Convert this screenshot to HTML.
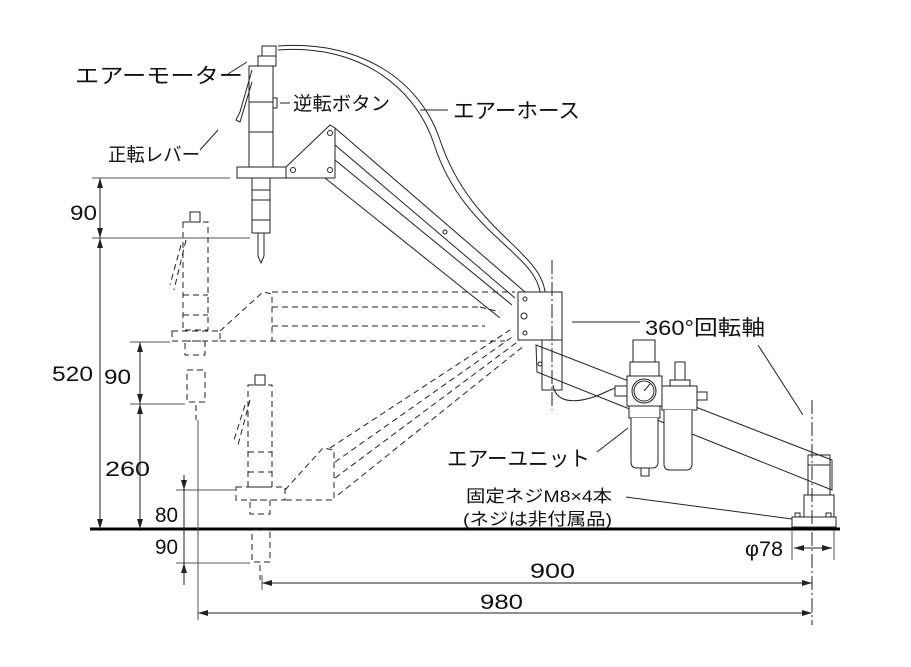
<!DOCTYPE html>
<html><head><meta charset="utf-8"><style>
html,body{margin:0;padding:0;background:#fff}
svg{display:block}
text{font-family:"Liberation Sans","Noto Sans CJK JP",sans-serif;fill:#111}
</style></head><body>
<svg width="911" height="667" viewBox="0 0 911 667" xmlns="http://www.w3.org/2000/svg">
<g stroke="#222" fill="none" stroke-width="1">
<line x1="90" y1="529" x2="840" y2="529" stroke-width="3" stroke="#000"/>

<path d="M278,46 C360,40 420,80 440,140 C470,230 540,250 545,292" stroke-width="1"/>
<path d="M278,50 C356,44 414,84 434,144 C462,232 534,252 540,292" stroke-width="1"/>

<rect x="262" y="46" width="14" height="10"/>
<rect x="258" y="56" width="18" height="10"/>
<rect x="249" y="66" width="24" height="36"/>
<rect x="249" y="102" width="24" height="30"/>
<rect x="249" y="132" width="24" height="35"/>
<rect x="273" y="98" width="4" height="10"/>
<path d="M252,70 L240,112 L236,120 L240,122 L252,82"/>
<rect x="237" y="167" width="49" height="11"/>
<rect x="252" y="178" width="18" height="12"/>
<rect x="252" y="190" width="18" height="43"/>
<line x1="252" y1="200" x2="270" y2="200"/><line x1="252" y1="220" x2="270" y2="220"/>
<path d="M258,233 L258,256 L261,263 L264,256 L264,233"/>
<path d="M286,167 L330,125 L335,128 L335,178 L286,178 Z"/>
<circle cx="330" cy="133" r="2.5"/><circle cx="330" cy="170" r="2.5"/><circle cx="293" cy="170" r="2.5"/>
<line x1="335" y1="128" x2="525" y2="292"/>
<line x1="335" y1="145" x2="515" y2="298"/>
<line x1="335" y1="160" x2="512" y2="305"/>
<line x1="325" y1="178" x2="500" y2="318"/>
<circle cx="445" cy="232" r="2"/>
<rect x="518" y="292" width="44" height="48"/>
<circle cx="525" cy="299" r="2"/><circle cx="524" cy="316" r="3"/><circle cx="525" cy="333" r="2"/>
<rect x="542" y="340" width="20" height="50"/>
<line x1="552" y1="260" x2="552" y2="410" stroke-dasharray="14,3,2,3"/>
<line x1="572" y1="322" x2="640" y2="322"/>
<path d="M536,345 L537,372 L832,490 L832,460 Z"/>
<circle cx="540" cy="364" r="2"/>
<path d="M553,385 C556,405 580,405 610,390 C630,382 630,388 628,392"/>
<rect x="808" y="455" width="22" height="10"/>
<rect x="808" y="465" width="22" height="30"/>
<rect x="804" y="495" width="30" height="22"/>
<rect x="792" y="517" width="44" height="10"/>
<rect x="795" y="513" width="5" height="4"/><rect x="826" y="513" width="5" height="4"/>
<line x1="812" y1="400" x2="812" y2="625" stroke-dasharray="14,3,2,3"/>
<line x1="758" y1="345" x2="803" y2="415"/>
<g fill="#fff">
<rect x="633" y="340" width="22" height="22"/>
<rect x="630" y="362" width="29" height="14"/>
<rect x="627" y="376" width="35" height="30"/>
<rect x="629" y="406" width="31" height="12"/>
<path d="M631,418 L631,462 Q631,468 637,468 L652,468 Q658,468 658,462 L658,418"/>
<rect x="641" y="468" width="8" height="8"/>
<rect x="675" y="362" width="10" height="18"/>
<rect x="670" y="380" width="20" height="6"/>
<rect x="662" y="386" width="35" height="24"/>
<path d="M664,410 L664,464 Q664,470 670,470 L686,470 Q692,470 692,464 L692,410"/>
<rect x="697" y="392" width="10" height="8"/>
<rect x="615" y="386" width="12" height="10"/>
</g>
<circle cx="644" cy="391" r="12"/><circle cx="644" cy="391" r="10"/>
<line x1="644" y1="391" x2="650" y2="384"/>
<line x1="597" y1="452" x2="628" y2="428"/>
<line x1="626" y1="497" x2="792" y2="519"/>
<line x1="200" y1="150" x2="218" y2="130" />
<line x1="228" y1="74" x2="247" y2="62"/>
<line x1="280" y1="103" x2="290" y2="103"/>
<line x1="420" y1="110" x2="448" y2="110"/>

<g stroke-dasharray="6,4">
<rect x="183" y="222" width="25" height="108"/>
<line x1="183" y1="295" x2="208" y2="295"/><line x1="183" y1="315" x2="208" y2="315"/>
<path d="M186,240 L174,290 M181,245 L170,285"/>
<rect x="172" y="331" width="48" height="10"/>
<rect x="185" y="341" width="20" height="14"/>
<rect x="187" y="370" width="18" height="32"/>
<line x1="196" y1="405" x2="196" y2="420"/>
<path d="M220,331 L263,292 L272,294 L272,341"/>
<line x1="272" y1="292" x2="515" y2="292"/>
<line x1="272" y1="307" x2="480" y2="307"/>
<line x1="272" y1="326" x2="485" y2="326"/>
<line x1="220" y1="341" x2="505" y2="341"/>
<line x1="480" y1="307" x2="500" y2="312"/>
<rect x="248" y="385" width="24" height="102"/>
<line x1="248" y1="452" x2="272" y2="452"/><line x1="248" y1="472" x2="272" y2="472"/>
<path d="M250,400 L238,445 M245,405 L234,440"/>
<rect x="236" y="487" width="49" height="13"/>
<rect x="250" y="500" width="20" height="14"/>
<rect x="252" y="530" width="18" height="32"/>
<line x1="260" y1="565" x2="260" y2="580"/>
<path d="M285,490 L323,448 L334,450 L334,500 L285,500"/>
<line x1="330" y1="448" x2="510" y2="330"/>
<line x1="335" y1="462" x2="515" y2="335"/>
<line x1="335" y1="478" x2="520" y2="340"/>
<line x1="338" y1="495" x2="525" y2="345"/>
</g>
<rect x="190" y="212" width="10" height="10"/><rect x="255" y="375" width="10" height="10"/>

<line x1="92" y1="178" x2="230" y2="178" stroke="#555"/>
<line x1="92" y1="238" x2="250" y2="238" stroke="#555"/>
<line x1="130" y1="342" x2="170" y2="342" stroke="#555"/>
<line x1="130" y1="404" x2="185" y2="404" stroke="#555"/>
<line x1="176" y1="490" x2="236" y2="490" stroke="#555"/>
<line x1="176" y1="563" x2="250" y2="563" stroke="#555"/>
<line x1="198" y1="420" x2="198" y2="620" stroke="#555"/>
<line x1="262" y1="575" x2="262" y2="590" stroke="#555"/>
<line x1="792" y1="530" x2="792" y2="560" stroke="#555"/>
<line x1="834" y1="530" x2="834" y2="560" stroke="#555"/>
<line x1="100" y1="178" x2="100" y2="529"/>
<line x1="140" y1="342" x2="140" y2="529"/>
<line x1="184" y1="475" x2="184" y2="585"/>
<line x1="262" y1="583" x2="812" y2="583"/>
<line x1="198" y1="613" x2="812" y2="613"/>
<line x1="794" y1="548" x2="832" y2="548"/>
</g>
<g fill="#222">
<path d="M100,178 l-3,10 h6z M100,238 l-3,-10 h6z M100,238 l-3,10 h6z M100,529 l-3,-10 h6z"/>
<path d="M140,342 l-3,10 h6z M140,404 l-3,-10 h6z M140,404 l-3,10 h6z M140,529 l-3,-10 h6z"/>
<path d="M184,490 l-3,-10 h6z M184,563 l-3,10 h6z"/>
<path d="M262,583 l10,-3 v6z M812,583 l-10,-3 v6z M198,613 l10,-3 v6z M812,613 l-10,-3 v6z"/>
<path d="M794,548 l10,-3 v6z M832,548 l-10,-3 v6z"/>
</g>
<g font-size="21" lengthAdjust="spacingAndGlyphs">
<text x="75" y="83" textLength="168" lengthAdjust="spacingAndGlyphs">エアーモーター</text>
<text x="293" y="110" textLength="97" font-size="19" lengthAdjust="spacingAndGlyphs">逆転ボタン</text>
<text x="453" y="118" textLength="127" lengthAdjust="spacingAndGlyphs">エアーホース</text>
<text x="108" y="161" textLength="92" font-size="19" lengthAdjust="spacingAndGlyphs">正転レバー</text>
<text x="645" y="335" textLength="120" lengthAdjust="spacingAndGlyphs">360°回転軸</text>
<text x="447" y="466" textLength="143" lengthAdjust="spacingAndGlyphs">エアーユニット</text>
<text x="466" y="502" font-size="17" textLength="146" lengthAdjust="spacingAndGlyphs">固定ネジM8×4本</text>
<text x="463" y="525" font-size="17" textLength="149" lengthAdjust="spacingAndGlyphs">(ネジは非付属品)</text>
<text x="70" y="220" textLength="27" lengthAdjust="spacingAndGlyphs">90</text>
<text x="52" y="381" textLength="41" lengthAdjust="spacingAndGlyphs">520</text>
<text x="104" y="384" textLength="27" lengthAdjust="spacingAndGlyphs">90</text>
<text x="105" y="476" textLength="45" lengthAdjust="spacingAndGlyphs">260</text>
<text x="155" y="522" textLength="23" lengthAdjust="spacingAndGlyphs">80</text>
<text x="155" y="554" textLength="23" lengthAdjust="spacingAndGlyphs">90</text>
<text x="530" y="578" textLength="45" lengthAdjust="spacingAndGlyphs">900</text>
<text x="480" y="609" textLength="43" lengthAdjust="spacingAndGlyphs">980</text>
<text x="745" y="556" textLength="38" lengthAdjust="spacingAndGlyphs">φ78</text>
</g>
</svg>
</body></html>
